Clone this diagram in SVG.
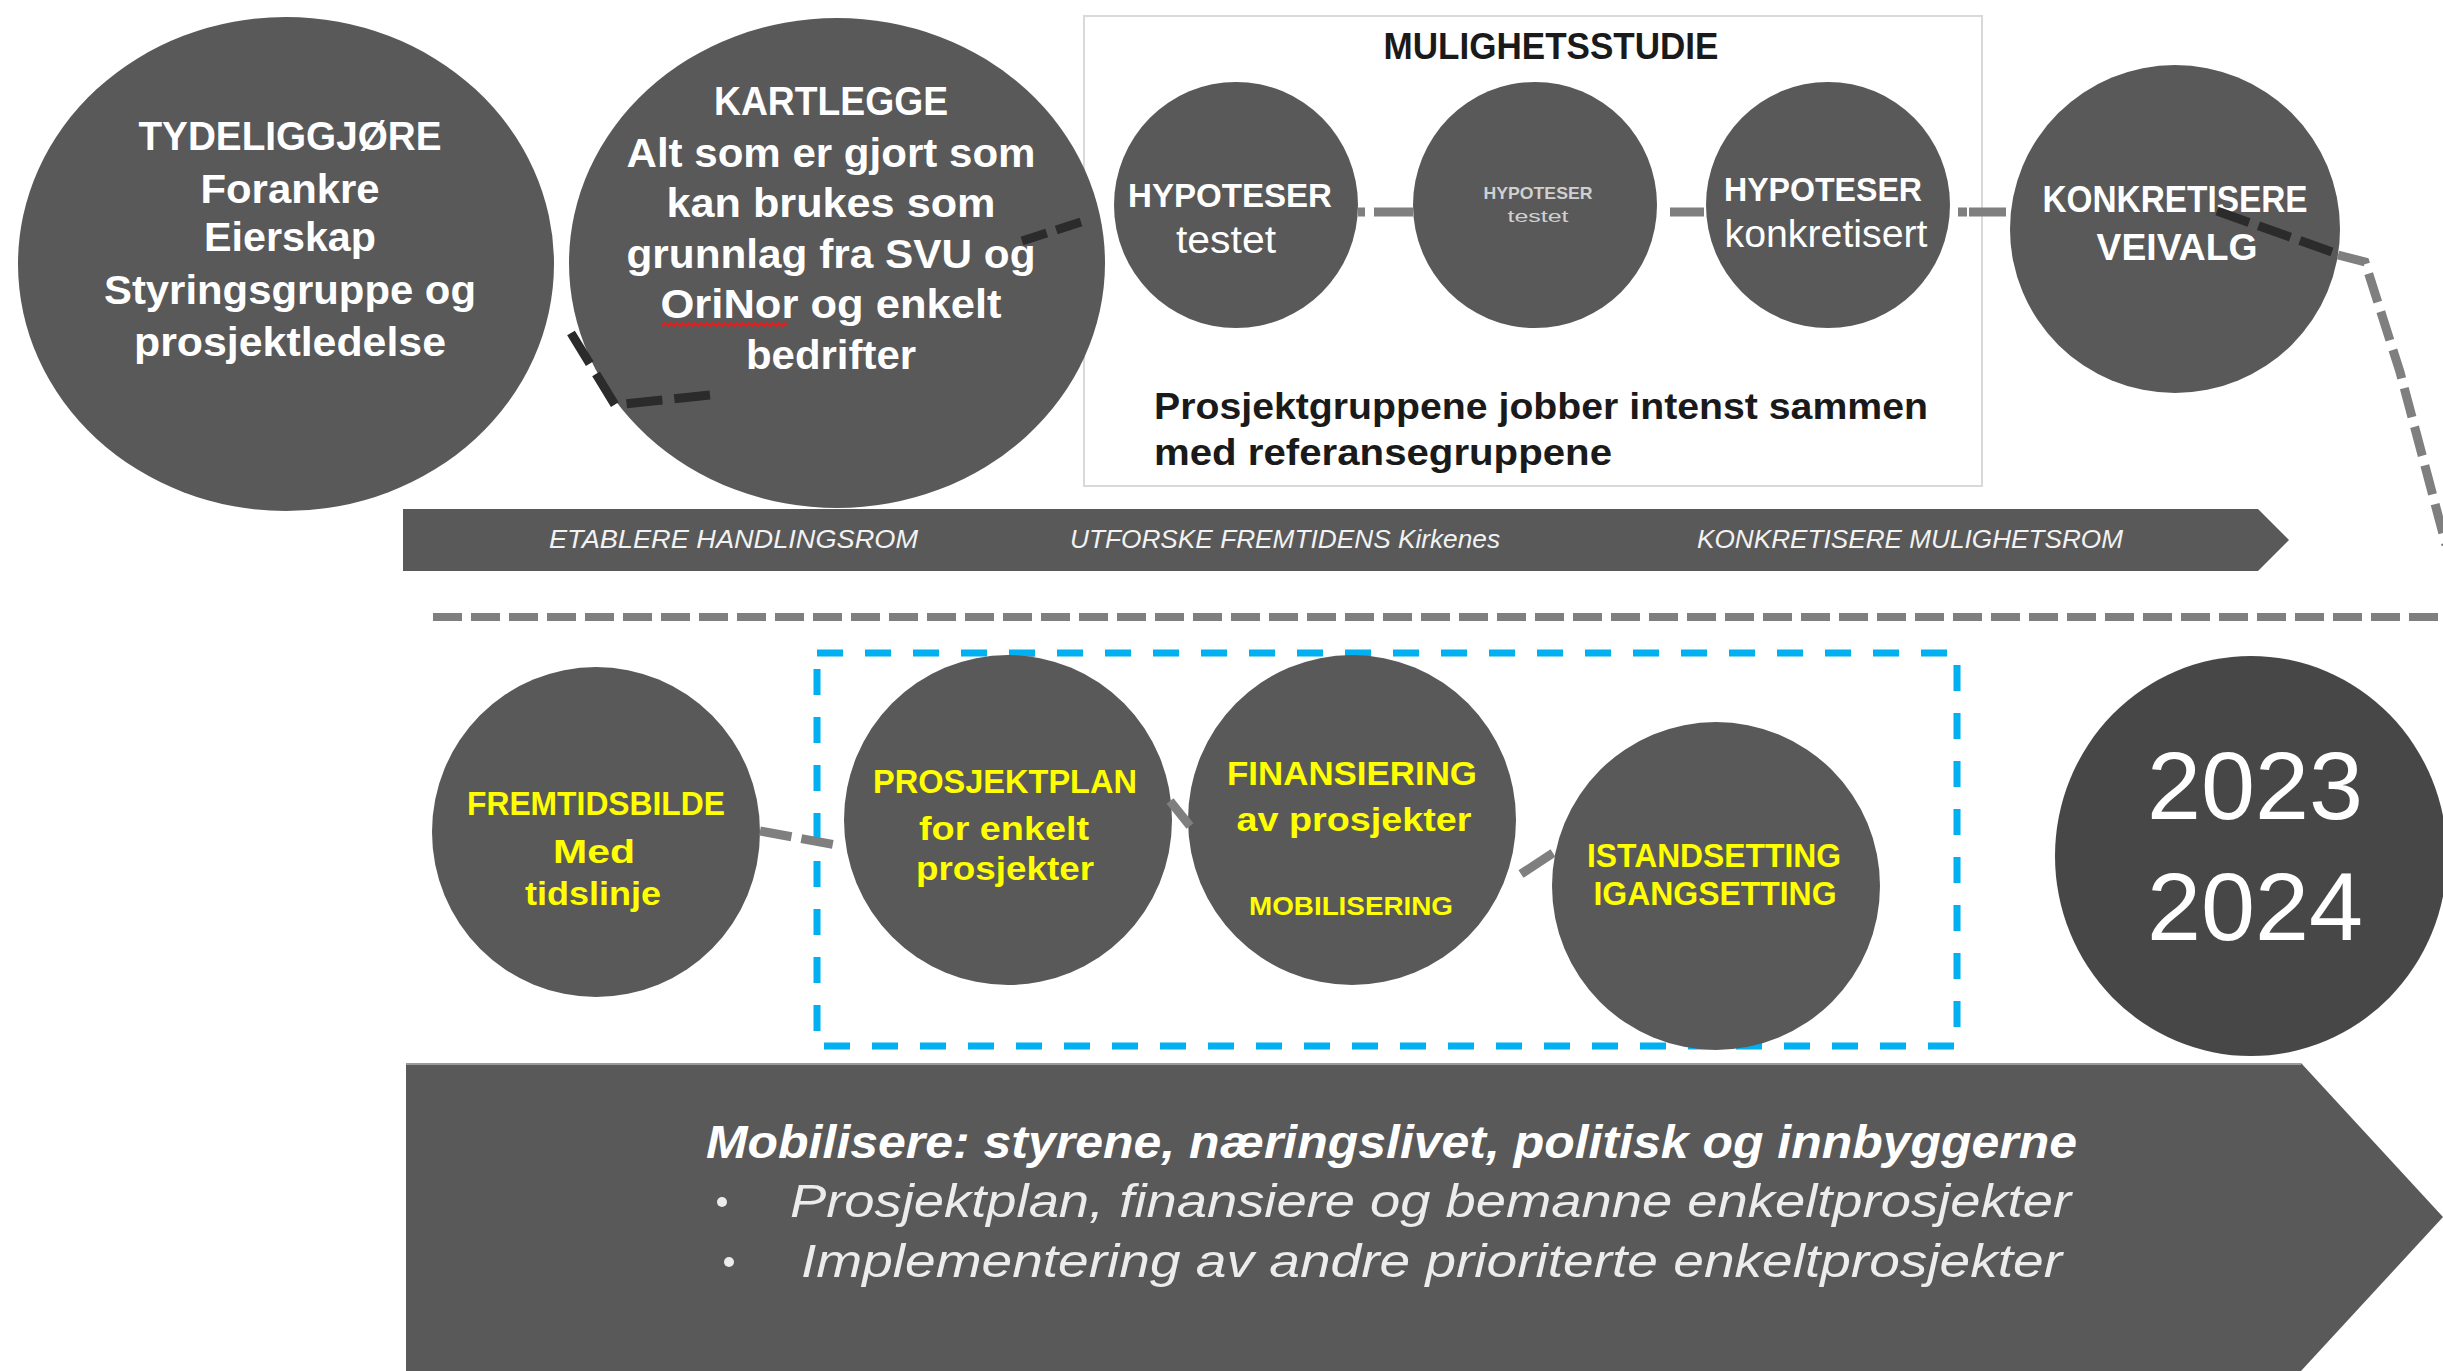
<svg xmlns="http://www.w3.org/2000/svg" width="2443" height="1371" viewBox="0 0 2443 1371">
<style>
.node{fill:#595959}
.t{font-family:"Liberation Sans",Arial,sans-serif;text-anchor:middle}
.s{text-anchor:start}
.b{font-weight:bold}
.w{fill:#ffffff}
.y{fill:#ffff00}
.k{fill:#1a1a1a}
.it{font-style:italic}
.gd{fill:none;stroke:#7f7f7f;stroke-width:9}
.dd{fill:none;stroke:#2b2b2b;stroke-width:9}
</style>
<rect x="0" y="0" width="2443" height="1371" fill="#ffffff"/>

<g id="timeline-bar">
<polygon points="403,509 2258,509 2289,540 2258,571 403,571" fill="#595959"/>
<text class="t s it" x="549" y="548" font-size="25" fill="#f2f2f2" textLength="369" lengthAdjust="spacingAndGlyphs">ETABLERE HANDLINGSROM</text>
<text class="t s it" x="1070" y="548" font-size="25" fill="#f2f2f2" textLength="430" lengthAdjust="spacingAndGlyphs">UTFORSKE FREMTIDENS Kirkenes</text>
<text class="t s it" x="1697" y="548" font-size="25" fill="#f2f2f2" textLength="426" lengthAdjust="spacingAndGlyphs">KONKRETISERE MULIGHETSROM</text>
</g>

<g id="mulighetsstudie">
<rect x="1084" y="16" width="898" height="470" fill="#ffffff" stroke="#d9d9d9" stroke-width="2"/>
<text class="t b k" x="1551" y="59" font-size="36" textLength="335" lengthAdjust="spacingAndGlyphs">MULIGHETSSTUDIE</text>
<text class="t s b k" x="1154" y="419" font-size="36" textLength="774" lengthAdjust="spacingAndGlyphs">Prosjektgruppene jobber intenst sammen</text>
<text class="t s b k" x="1154" y="465" font-size="36" textLength="458" lengthAdjust="spacingAndGlyphs">med referansegruppene</text>
</g>

<g id="tydeliggjore">
<ellipse class="node" cx="286" cy="264" rx="268" ry="247"/>
<text class="t b w" x="290" y="150" font-size="40" textLength="303" lengthAdjust="spacingAndGlyphs">TYDELIGGJØRE</text>
<text class="t b w" x="290" y="203" font-size="40" textLength="179" lengthAdjust="spacingAndGlyphs">Forankre</text>
<text class="t b w" x="290" y="251" font-size="40" textLength="172" lengthAdjust="spacingAndGlyphs">Eierskap</text>
<text class="t b w" x="290" y="304" font-size="40" textLength="372" lengthAdjust="spacingAndGlyphs">Styringsgruppe og</text>
<text class="t b w" x="290" y="356" font-size="40" textLength="312" lengthAdjust="spacingAndGlyphs">prosjektledelse</text>
</g>

<g id="kartlegge">
<ellipse class="node" cx="837" cy="263" rx="268" ry="245"/>
<text class="t b w" x="831" y="115" font-size="40" textLength="234" lengthAdjust="spacingAndGlyphs">KARTLEGGE</text>
<text class="t b w" x="831" y="167" font-size="40" textLength="409" lengthAdjust="spacingAndGlyphs">Alt som er gjort som</text>
<text class="t b w" x="831" y="217" font-size="40" textLength="329" lengthAdjust="spacingAndGlyphs">kan brukes som</text>
<text class="t b w" x="831" y="268" font-size="40" textLength="409" lengthAdjust="spacingAndGlyphs">grunnlag fra SVU og</text>
<text class="t b w" x="831" y="318" font-size="40" textLength="341" lengthAdjust="spacingAndGlyphs">OriNor og enkelt</text>
<text class="t b w" x="831" y="369" font-size="40" textLength="170" lengthAdjust="spacingAndGlyphs">bedrifter</text>
<path d="M662,326 l3,-3 l3,3 l3,-3 l3,3 l3,-3 l3,3 l3,-3 l3,3 l3,-3 l3,3 l3,-3 l3,3 l3,-3 l3,3 l3,-3 l3,3 l3,-3 l3,3 l3,-3 l3,3 l3,-3 l3,3 l3,-3 l3,3 l3,-3 l3,3 l3,-3 l3,3 l3,-3 l3,3 l3,-3 l3,3 l3,-3 l3,3 l3,-3 l3,3 l3,-3 l3,3 l3,-3 l3,3 l3,-3 l3,3" fill="none" stroke="#e02020" stroke-width="2"/>
</g>

<g id="hypoteser-testet">
<ellipse class="node" cx="1236" cy="205" rx="122" ry="123"/>
<text class="t b w" x="1230" y="207" font-size="34" textLength="204" lengthAdjust="spacingAndGlyphs">HYPOTESER</text>
<text class="t w" x="1226" y="253" font-size="38" textLength="100" lengthAdjust="spacingAndGlyphs">testet</text>
</g>

<g id="hypoteser-testet-2">
<ellipse class="node" cx="1535" cy="205" rx="122" ry="123"/>
<text class="t b" x="1538" y="199" font-size="17" fill="#d0d0d0" textLength="109" lengthAdjust="spacingAndGlyphs">HYPOTESER</text>
<text class="t" x="1538" y="222" font-size="17" fill="#d0d0d0" textLength="61" lengthAdjust="spacingAndGlyphs">testet</text>
</g>

<g id="hypoteser-konkretisert">
<ellipse class="node" cx="1828" cy="205" rx="122" ry="123"/>
<text class="t b w" x="1823" y="201" font-size="34" textLength="198" lengthAdjust="spacingAndGlyphs">HYPOTESER</text>
<text class="t w" x="1826" y="247" font-size="38" textLength="203" lengthAdjust="spacingAndGlyphs">konkretisert</text>
</g>

<g id="konkretisere-veivalg">
<ellipse class="node" cx="2175" cy="229" rx="165" ry="164"/>
<text class="t b w" x="2175" y="212" font-size="36" textLength="265" lengthAdjust="spacingAndGlyphs">KONKRETISERE</text>
<text class="t b w" x="2177" y="260" font-size="36" textLength="161" lengthAdjust="spacingAndGlyphs">VEIVALG</text>
</g>

<g id="separator">
<line x1="433" y1="617" x2="2443" y2="617" stroke="#7f7f7f" stroke-width="8" stroke-dasharray="29 9"/>
</g>

<g id="gjennomforing-ramme">
<rect x="817" y="653" width="1140" height="393" fill="none" stroke="#00b0f0" stroke-width="7" stroke-dasharray="26 22"/>
</g>

<g id="fremtidsbilde">
<ellipse class="node" cx="596" cy="832" rx="164" ry="165"/>
<text class="t b y" x="596" y="815" font-size="33" textLength="258" lengthAdjust="spacingAndGlyphs">FREMTIDSBILDE</text>
<text class="t b y" x="594" y="863" font-size="33" textLength="82" lengthAdjust="spacingAndGlyphs">Med</text>
<text class="t b y" x="593" y="905" font-size="33" textLength="136" lengthAdjust="spacingAndGlyphs">tidslinje</text>
</g>

<g id="prosjektplan">
<ellipse class="node" cx="1008" cy="820" rx="164" ry="165"/>
<text class="t b y" x="1005" y="793" font-size="33" textLength="264" lengthAdjust="spacingAndGlyphs">PROSJEKTPLAN</text>
<text class="t b y" x="1004" y="840" font-size="33" textLength="170" lengthAdjust="spacingAndGlyphs">for enkelt</text>
<text class="t b y" x="1005" y="880" font-size="33" textLength="178" lengthAdjust="spacingAndGlyphs">prosjekter</text>
</g>

<g id="finansiering">
<ellipse class="node" cx="1352" cy="820" rx="164" ry="165"/>
<text class="t b y" x="1352" y="785" font-size="33" textLength="250" lengthAdjust="spacingAndGlyphs">FINANSIERING</text>
<text class="t b y" x="1354" y="831" font-size="33" textLength="235" lengthAdjust="spacingAndGlyphs">av prosjekter</text>
<text class="t b y" x="1351" y="915" font-size="26" textLength="204" lengthAdjust="spacingAndGlyphs">MOBILISERING</text>
</g>

<g id="istandsetting">
<ellipse class="node" cx="1716" cy="886" rx="164" ry="164"/>
<text class="t b y" x="1714" y="867" font-size="33" textLength="254" lengthAdjust="spacingAndGlyphs">ISTANDSETTING</text>
<text class="t b y" x="1715" y="905" font-size="33" textLength="243" lengthAdjust="spacingAndGlyphs">IGANGSETTING</text>
</g>

<g id="aar-2023-2024">
<ellipse cx="2251" cy="856" rx="196" ry="200" fill="#474747"/>
<text class="t w" x="2255" y="819" font-size="97" textLength="216" lengthAdjust="spacingAndGlyphs">2023</text>
<text class="t w" x="2255" y="940" font-size="97" textLength="216" lengthAdjust="spacingAndGlyphs">2024</text>
</g>

<g id="mobilisere">
<polygon points="406,1063 2301,1063 2443,1217 2301,1371 406,1371" fill="#595959"/>
<line x1="406" y1="1064" x2="2301" y2="1064" stroke="#9a9a9a" stroke-width="2"/>
<text class="t s b it w" x="706" y="1158" font-size="46" textLength="1371" lengthAdjust="spacingAndGlyphs">Mobilisere: styrene, næringslivet, politisk og innbyggerne</text>
<circle cx="722" cy="1202" r="5" fill="#ececec"/>
<text class="t s it" x="790" y="1217" font-size="46" fill="#ececec" textLength="1281" lengthAdjust="spacingAndGlyphs">Prosjektplan, finansiere og bemanne enkeltprosjekter</text>
<circle cx="729" cy="1262" r="5" fill="#ececec"/>
<text class="t s it" x="801" y="1277" font-size="46" fill="#ececec" textLength="1261" lengthAdjust="spacingAndGlyphs">Implementering av andre prioriterte enkeltprosjekter</text>
</g>

<g id="connectors">
<path class="dd" d="M571,333 L615,405 L710,395" stroke-dasharray="36 12"/>
<path class="dd" d="M1022,241 L1090,219" stroke-dasharray="26 10"/>
<line class="gd" x1="1358" y1="212" x2="1413" y2="212" stroke-width="10" stroke-dasharray="7 9 40"/>
<line class="gd" x1="1660" y1="212" x2="1704" y2="212" stroke-width="10" stroke-dasharray="0 10 34"/>
<line class="gd" x1="1952" y1="212" x2="2006" y2="212" stroke-width="10" stroke-dasharray="0 6 9 2 34"/>
<path class="dd" d="M2217,211 L2335,253" stroke-dasharray="34 10"/>
<path class="gd" d="M2338,255 L2365,262 L2400,372 L2446,545" stroke-dasharray="30 10"/>
<path class="gd" d="M760,831 L842,846" stroke-dasharray="32 10"/>
<path class="gd" d="M1170,801 L1190,826"/>
<path class="gd" d="M1521,874 L1553,853"/>
</g>
</svg>
